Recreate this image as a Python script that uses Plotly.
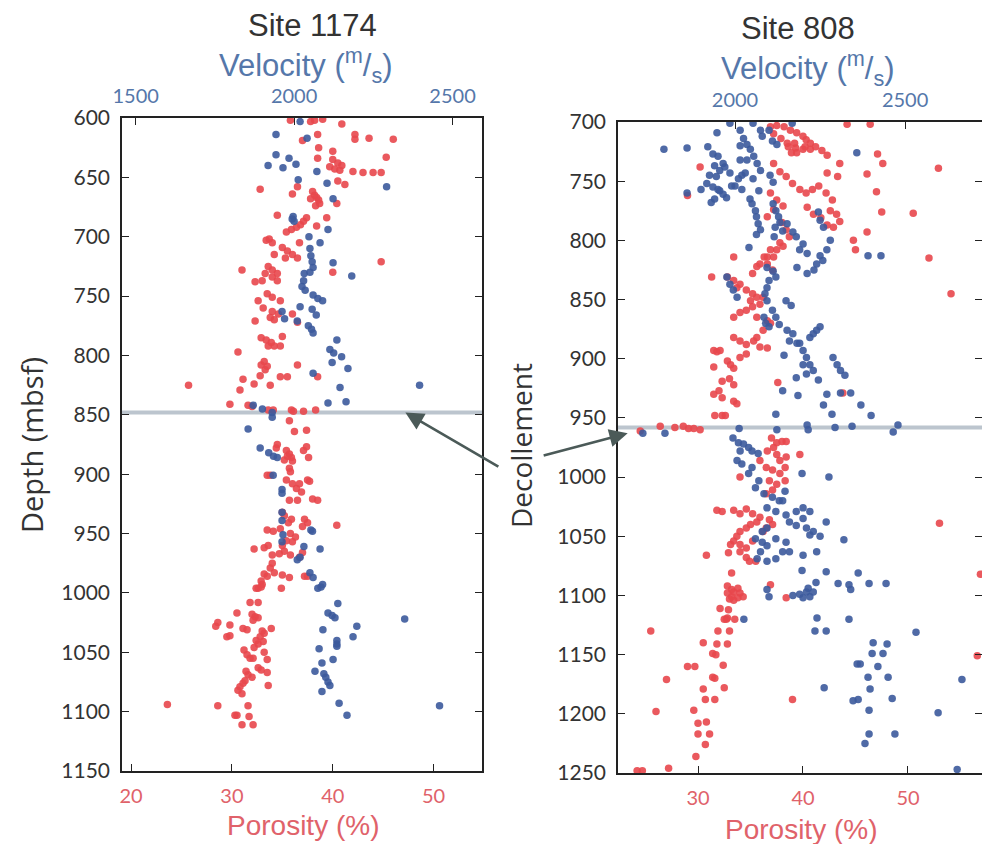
import plotly.graph_objects as go

# ---------------- Site 1174 ----------------
vel1174 = [(603,2019),(614,1943),(617,2041),(631,1943),(634,1984),(640,1918),(642,1965),(639,2006),(645,2072),(652,2013),
 (655,2104),(658,2292),(668,2123),(683,1997),(685,1994),(687,2000),(694,2107),(700,2047),(705,2082),(710,2050),(716,2053),
 (721,2057),(726,2060),(730,2050),(722,2123),(733,2182),(731,2032),(737,2030),(742,2025),(745,2035),(749,2060),(752,2075),
 (754,2090),(759,2019),(761,2057),(766,2070),(763,1962),(769,1970),(771,2010),(775,2045),(778,2055),(781,2060),(787,2135),
 (795,2113),(798,2125),(801,2150),(806,2120),(811,2170),(815,2060),(825,2396),(827,2145),(840,2107),(839,2164),(842,1871),
 (845,1900),(848,1931),(852,1931),(862,1855),(878,1893),(882,1920),(885,1935),(886,1947),
 (901,1934),(913,1962),(916,1962),(932,1962),(939,1962),(947,2053),(948,2058),(963,2082),(961,2031),(951,1965),(957,1962),
 (970,2019),(972,2010),(983,2050),(987,2060),(996,2075),(995,2085),(993,2090),(1009,2138),(1017,2107),(1019,2120),(1021,2129),
 (1022,2349),(1031,2091),(1028,2198),(1037,2186),(1040,2135),(1043,2135),(1045,2135),(1047,2079),(1056,2123),(1059,2088),
 (1066,2066),(1068,2094),(1071,2100),(1075,2107),(1078,2113),(1083,2088),(1093,2142),(1095,2459),(1103,2167)]

por1174 = [(602,35.8),(603,37.8),(602,38.2),(601,39.0),(605,40.9),(614,42.2),(618,42.2),(617,43.6),(618,46.0),(619,37.0),
 (614,38.5),(625,38.6),(628,40.0),(635,40.0),(638,40.5),(641,39.7),(643,40.2),(644,40.7),(640,40.9),(645,42.0),(646,43.0),
 (646,44.0),(646,44.8),(633,45.3),(634,38.5),(653,40.5),(656,41.2),(658,36.5),(660,32.8),(662,38.0),(665,38.2),(667,38.4),
 (669,38.6),(672,38.7),(668,37.8),(674,38.3),(672,40.4),(664,36.0),(682,34.5),(684,39.4),(684,37.4),(687,37.1),(690,36.8),
 (692,36.4),(694,35.9),(696,35.4),(691,38.4),(703,33.4),(702,33.7),(705,34.0),(705,36.7),(709,35.0),(712,35.5),(715,36.0),
 (718,36.5),(718,35.3),(715,34.2),(728,31.0),(738,32.3),(725,33.6),(728,34.0),(731,34.5),(731,33.3),(734,34.0),(737,34.5),
 (737,33.0),(730,40.0),(721,44.8),(748,33.5),(751,34.0),(754,34.8),(754,32.6),(760,33.1),(763,34.0),(765,34.6),(768,33.8),
 (770,34.2),(771,32.3),(765,36.0),(772,36.5),(785,32.9),(787,33.4),(789,33.9),(792,34.2),(792,33.6),(784,35.0),(792,34.8),
 (797,30.6),(805,33.2),(808,32.9),(809,33.5),(812,33.3),(817,32.8),(818,34.8),(818,35.5),(808,36.5),(818,38.5),(820,31.1),
 (824,32.2),(825,33.8),(825,25.7),(829,30.8),(841,29.8),(842,31.6),(843,32.0),(846,33.6),(846,34.1),(846,35.9),(847,36.1),
 (847,37.1),(846,38.3),(855,35.7),(864,36.2),(863,37.4),(877,37.4),(880,37.1),(886,37.6),(875,34.5),(878,34.4),(880,35.4),
 (883,35.7),(886,35.9),(888,35.2),(889,36.0),(885,35.5),
 (901,33.5),(901,33.8),(895,35.7),(898,35.8),(905,35.4),(908,36.0),(908,36.7),(912,36.4),(915,36.9),(905,37.5),(906,37.7),
 (922,35.7),(922,36.5),(921,38.0),(922,38.5),(932,35.0),(935,35.2),(938,35.9),(941,35.6),(938,37.2),(941,37.5),(944,37.0),
 (943,40.4),(947,33.5),(948,34.1),(946,34.8),(950,35.8),(953,36.3),(957,36.0),(956,35.4),(960,35.0),(963,32.2),(962,33.2),
 (960,33.6),(968,34.0),(967,34.7),(965,35.2),(968,35.8),(970,36.7),(966,37.0),(975,34.0),(979,33.8),(983,34.2),(984,33.2),
 (986,33.5),(990,32.9),(993,33.0),(996,32.6),(985,35.0),(987,35.7),(986,37.2),(986,37.5),(996,34.9),(996,32.4),(995,32.9),
 (1008,31.8),(1008,32.6),(1017,30.5),(1018,32.0),(1020,32.3),(1021,32.6),(1023,32.1),(1025,28.6),(1028,28.4),(1027,29.8),
 (1030,31.1),(1031,31.5),(1032,33.0),(1034,33.2),(1037,32.8),(1040,32.4),(1043,32.6),(1046,32.2),(1041,33.1),(1030,33.9),
 (1037,29.5),(1036,29.8),(1048,31.2),(1052,31.5),(1055,31.8),(1055,32.1),(1050,33.2),(1056,33.5),(1063,32.6),(1065,32.9),
 (1067,33.5),(1066,31.4),(1069,31.6),(1074,31.3),(1076,31.1),(1079,30.8),(1082,30.6),(1085,31.0),(1071,32.0),(1078,33.6),
 (1095,31.6),(1094,23.6),(1095,28.6),(1103,30.3),(1103,30.5),(1104,31.7),(1111,31.0),(1111,32.1)]

# ---------------- Site 808 ----------------
vel808 = [(701,1985),(701,2168),(709,1947),(723,1791),(722,1859),
 (721,1920),(727,1935),(729,1950),(735,1965),(737,1940),(741,1955),(738,1970),(743,1985),(745,1925),(746,1945),
 (707,2015),(714,2025),(719,2035),(720,2015),(723,2045),(729,2055),(732,2035),(735,2065),(741,2075),(732,2015),
 (701,2053),(707,2075),(712,2080),(707,2100),(716,2110),(719,2123),(726,2358),
 (745,2020),(743,2030),(748,2053),(748,2010),(754,2000),(757,2020),
 (752,1917),(755,1935),(758,1955),(761,1965),(764,1975),(765,1940),(768,1930),(757,1950),(754,1990),(760,1859),(757,1900),
 (745,2103),(751,2112),(758,2070),(765,2044),(769,2050),(775,2060),(780,2063),(786,2068),(791,2075),(795,2063),
 (769,2112),(775,2120),(780,2128),(785,2132),(789,2118),(792,2140),(797,2115),
 (786,2153),(793,2170),(797,2180),(803,2200),(808,2190),(811,2212),
 (776,2245),(783,2250),(789,2260),(800,2280),(808,2270),(813,2250),(817,2258),(820,2240),(825,2232),
 (813,2391),(813,2429),(806,2041),(823,2182),(828,2212),
 (823,2094),(826,2112),(831,2120),(834,2100),(840,2094),(845,2088),
 (831,1976),(837,1985),(842,1995),(848,2006),
 (851,2094),(859,2110),(865,2120),(871,2130),(873,2100),(865,2085),(870,2090),(851,2150),(855,2165),
 (876,2153),(879,2170),(885,2160),(887,2182),
 (887,2190),(893,2200),(899,2210),(882,2220),(879,2230),(876,2240),(873,2250),(905,2220),(905,2200),(910,2230),(913,2210),
 (918,2245),(916,2180),(899,2288),(905,2300),(910,2310),(914,2323),(897,2144),
 (927,2140),(931,2185),(930,2270),(929,2310),(929,2340),(939,2370),(939,2260),(947,2285),(948,2400),(947,2120),
 (956,2212),(960,2215),(958,2294),(957,2344),(956,2479),(962,2465),(960,2123),(959,2012),(963,1794),(963,1729),
 (967,1994),(971,2010),(972,2025),(975,2040),(978,2050),(978,2015),(980,2068),
 (986,2006),(989,2020),(992,2050),(997,2040),(1003,2070),(1009,2060),(1014,2085),(1017,2110),(1020,2130),
 (997,2197),(1000,2276),(1012,2147),(1020,2140),
 (1026,2094),(1029,2120),(1032,2150),(1029,2180),(1026,2200),(1029,2220),(1035,2200),(1038,2160),(1041,2180),(1043,2210),
 (1046,2230),(1049,2220),(1050,2250),(1043,2094),(1046,2080),(1052,2060),(1055,2080),(1058,2094),(1052,2120),(1055,2150),
 (1063,2075),(1069,2065),(1071,2094),(1069,2120),(1063,2140),(1063,2160),(1066,2200),(1063,2240),
 (1038,2268),(1053,2320),(1079,2197),(1080,2268),(1081,2362),(1089,2238),(1090,2303),(1091,2335),(1095,2340),(1090,2394),
 (1090,2444),(1095,2094),(1101,2100),(1100,2170),(1099,2190),(1097,2210),(1101,2220),(1102,2200),(1097,2230),(1094,2215),
 (1120,2026),(1119,2241),(1120,2335),(1130,2235),(1130,2268),(1131,2532),
 (1140,2406),(1141,2447),(1149,2403),(1149,2435),(1160,2420),(1169,2450),(1169,2391),(1179,2397),(1158,2359),(1158,2368),
 (1189,2347),(1188,2362),(1187,2462),(1197,2394),(1217,2394),(1225,2382),(1217,2470),(1178,2262),
 (1199,2597),(1171,2667),(1247,2653)]

por808 = [(704,36.9),(703,37.5),(704,38.2),(707,38.8),(709,39.4),(712,40.0),(715,40.3),(718,39.2),(721,38.6),(710,37.2),
 (714,37.9),(718,38.5),(722,39.3),(726,38.9),(726,39.4),(723,40.0),(721,40.2),(723,40.7),
 (718,40.7),(721,41.2),(724,41.8),(728,42.3),(702,44.2),(702,46.4),(727,47.1),(735,47.6),(739,52.9),
 (735,43.5),(746,43.3),(743,42.3),(744,46.1),(759,47.0),(776,47.5),(777,50.5),(738,30.2),(762,29.0),
 (735,37.2),(742,37.8),(746,38.4),(752,39.0),(757,39.7),(760,40.3),(757,40.9),(754,41.5),(760,42.2),(766,42.8),
 (760,36.9),(766,37.5),(771,38.1),(774,37.2),(780,36.6),
 (772,40.4),(778,41.0),(781,41.7),(775,42.6),(778,43.2),(784,43.5),(789,42.9),(787,42.3),
 (785,38.0),(791,38.4),(797,38.7),(802,37.8),(808,37.5),(805,38.1),(808,36.9),(814,36.6),(814,37.2),
 (800,44.8),(808,45.0),(793,46.1),(815,52.0),(845,54.1),(814,33.4),
 (814,36.3),(820,36.6),(820,35.9),(825,37.1),(822,35.6),(828,35.2),(831,31.3),
 (831,32.8),(834,33.4),(837,34.0),(840,33.7),
 (842,34.6),(845,35.2),(848,35.6),(851,35.0),(854,35.9),(856,35.2),(859,34.6),(848,36.2),
 (865,33.4),(861,34.0),(865,35.6),(868,36.6),(870,36.9),(876,36.2),(882,35.6),(885,35.3),(888,34.6),(885,34.0),(882,33.4),
 (893,31.5),(894,31.8),(893,32.1),(907,31.5),(902,32.8),(905,33.1),(908,33.4),(899,34.0),(896,34.6),(890,35.9),(891,36.6),
 (919,32.3),(917,33.0),(922,33.4),(927,32.0),(930,31.5),(933,32.3),(936,33.4),(938,33.7),
 (920,37.6),(929,43.8),(948,31.6),(948,32.3),(948,32.6),
 (961,24.5),(957,26.4),(958,27.8),(957,28.6),(959,29.1),(959,29.6),(960,30.2),
 (967,37.0),(971,37.5),(970,38.0),(970,38.4),(975,37.2),(978,36.6),(981,37.5),(983,38.4),(981,39.7),
 (1000,34.0),(986,35.9),(992,36.5),(994,37.1),(997,37.8),(1003,36.8),(1006,37.5),(1011,37.1),(1014,36.5),(986,37.8),
 (992,38.3),(1003,38.3),
 (1028,31.8),(1029,32.3),(1028,33.4),(1031,34.0),(1027,34.6),(1031,35.2),(1034,35.9),(1038,35.6),(1040,35.0),(1043,34.6),
 (1046,34.0),(1050,33.7),(1054,33.4),(1057,34.0),(1060,34.6),(1054,35.2),(1043,36.5),(1046,36.2),(1057,33.1),(1063,34.0),
 (1068,34.6),(1071,34.9),(1071,35.5),(1036,36.8),(1040,37.1),(1066,30.8),(1064,32.9),
 (1039,53.0),(1082,56.9),(1151,56.6),(1081,33.2),
 (1092,32.8),(1095,33.2),(1097,33.4),(1094,33.8),(1098,34.0),(1101,34.3),(1101,33.2),(1098,32.8),(1102,33.8),(1103,33.0),
 (1104,33.4),(1091,36.9),(1102,38.4),
 (1111,32.1),(1112,32.9),(1119,32.8),(1120,32.7),(1120,33.5),(1120,32.5),
 (1130,31.9),(1130,33.0),(1130,25.5),(1140,30.5),(1141,31.8),(1141,32.8),
 (1149,31.4),(1150,31.7),(1159,32.4),(1160,29.0),(1160,29.7),
 (1171,27.0),(1169,31.4),(1170,31.6),(1178,32.5),(1179,30.5),
 (1188,30.7),(1188,31.6),(1188,39.0),
 (1198,26.0),(1197,29.6),(1208,30.0),(1207,30.8),(1217,30.0),(1217,31.1),(1226,30.7),(1236,29.8),
 (1248,24.2),(1248,24.7),(1246,27.2)]

depth_ticks_1174 = list(range(600, 1151, 50))
depth_ticks_808 = list(range(700, 1251, 50))
por_ticks_1174 = [20, 30, 40, 50]
por_ticks_808 = [30, 40, 50]
vel_ticks_1174 = [1500, 2000, 2500]
vel_ticks_808 = [2000, 2500]
decollement_1174 = 848
decollement_808 = 958

RED = "#e8474c"
BLUE = "#3c5a9c"
RED_TXT = "#e0626a"
BLUE_TXT = "#5577aa"
DARK = "#333333"
W, H = 982, 844

def px(x):
    return x / W

def py(y):
    return 1 - y / H

fig = go.Figure()

def add(points, xaxis, yaxis, color):
    fig.add_trace(go.Scatter(
        x=[p[1] for p in points], y=[p[0] for p in points],
        xaxis=xaxis, yaxis=yaxis, mode="markers",
        marker=dict(size=7.5, color=color, opacity=0.9, line=dict(width=0)),
        showlegend=False, hoverinfo="skip"))

add(vel1174, "x3", "y", BLUE)
add(por1174, "x", "y", RED)
add(vel808, "x4", "y2", BLUE)
add(por808, "x2", "y2", RED)

tickfont = dict(family="Lato, Open Sans, sans-serif", size=21)
xtickfont = dict(family="Lato, Open Sans, sans-serif", size=20)
common = dict(showgrid=False, zeroline=False, showline=True, linecolor="#222", linewidth=1.5,
              ticks="inside", ticklen=7, tickcolor="#222", tickwidth=1.3, automargin=False)

fig.update_layout(
    template="none",
    width=W, height=H, margin=dict(l=0, r=0, t=0, b=0, pad=0, autoexpand=False),
    paper_bgcolor="white", plot_bgcolor="white",
    xaxis=dict(domain=[px(122), px(482)], range=[19.1, 54.8], anchor="y",
               tickvals=por_ticks_1174, tickfont=dict(xtickfont, color=RED_TXT), ticklabelstandoff=6, **common),
    yaxis=dict(domain=[py(771), py(118)], range=[1150, 600], anchor="x",
               tickvals=depth_ticks_1174, tickfont=dict(tickfont, color=DARK), mirror="ticks",
               ticklabelstandoff=6, **common),
    xaxis3=dict(overlaying="x", side="top", anchor="y", range=[1457, 2593],
                tickvals=vel_ticks_1174, tickfont=dict(xtickfont, color=BLUE_TXT), ticklabelstandoff=5, **common),
    xaxis2=dict(domain=[px(618), 1.0], range=[22.38, 57.05], anchor="y2",
                tickvals=por_ticks_808, tickfont=dict(xtickfont, color=RED_TXT), ticklabelstandoff=6, **common),
    yaxis2=dict(domain=[py(773), py(122)], range=[1250, 700], anchor="x2",
                tickvals=depth_ticks_808, tickfont=dict(tickfont, color=DARK), mirror="ticks",
                ticklabelstandoff=6, **common),
    xaxis4=dict(overlaying="x2", side="top", anchor="y2", range=[1656, 2726],
                tickvals=vel_ticks_808, tickfont=dict(xtickfont, color=BLUE_TXT), ticklabelstandoff=5, **common),
)

# decollement lines
fig.add_shape(type="line", xref="x domain", yref="y", x0=0, x1=1, y0=decollement_1174, y1=decollement_1174,
              line=dict(color="#bcc5ce", width=4), layer="below")
fig.add_shape(type="line", xref="x2 domain", yref="y2", x0=0, x1=1, y0=decollement_808, y1=decollement_808,
              line=dict(color="#bcc5ce", width=4), layer="below")

title_font = dict(family="Liberation Sans, Arial, sans-serif", size=31, color=DARK)
axis_font_blue = dict(family="Liberation Sans, Arial, sans-serif", size=31, color=BLUE_TXT)
axis_font_red = dict(family="Liberation Sans, Arial, sans-serif", size=28, color=RED_TXT)
side_font = dict(family="Open Sans, sans-serif", size=29, color=DARK)
dec_font = dict(family="Open Sans, sans-serif", size=28, color=DARK)

def note(text, x, y, font, angle=0):
    fig.add_annotation(text=text, x=px(x), y=py(y), xref="paper", yref="paper", showarrow=False,
                       font=font, textangle=angle, xanchor="center", yanchor="middle")

note("Site 1174", 312, 25, title_font)
note("Velocity (<sup>m</sup>/<sub>s</sub>)", 306, 66, axis_font_blue)
note("Site 808", 798, 28, title_font)
note("Velocity (<sup>m</sup>/<sub>s</sub>)", 808, 68, axis_font_blue)
note("Porosity (%)", 303, 825, axis_font_red)
note("Porosity (%)", 801, 829, axis_font_red)
note("Depth (mbsf)", 31, 445, side_font, -90)
note("Decollement", 521, 446, dec_font, -90)

# arrows
arrow = dict(showarrow=True, arrowhead=2, arrowsize=1.4, arrowwidth=2.6, arrowcolor="#4b5a58", text=" ", standoff=0)
fig.add_annotation(x=47.2, y=decollement_1174, xref="x", yref="y", ax=96, ay=56, **arrow)
fig.add_annotation(x=23.3, y=963, xref="x2", yref="y2", ax=-87, ay=23, **arrow)

fig.write_html("out.html")
